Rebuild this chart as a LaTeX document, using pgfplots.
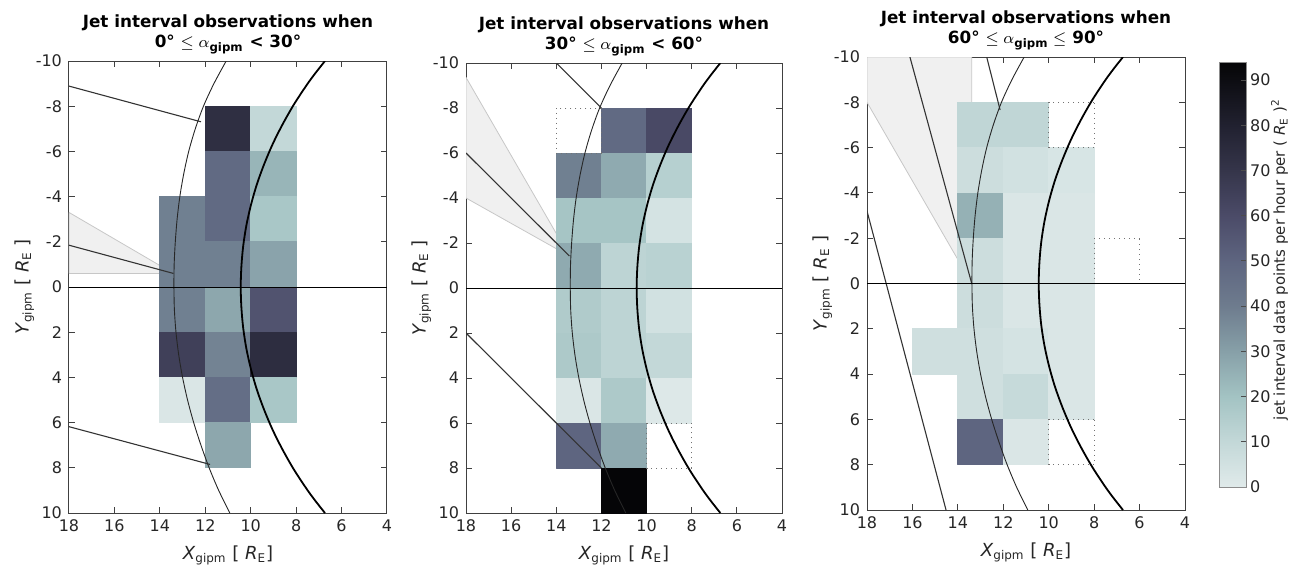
\documentclass[border=0pt]{standalone}
\usepackage{amsmath}
\usepackage{fontspec}
\setmainfont{DejaVu Sans}
\usepackage{pgfplots}
\usepackage{pgfplotstable}
\pgfplotsset{compat=1.18}
\usepgfplotslibrary{patchplots}

% model boundaries, same in all panels
\pgfplotstableread{
x y
11.08 -10
11.62 -9
12.08 -8
12.44 -7
12.73 -6
12.95 -5
13.12 -4
13.24 -3
13.32 -2
13.37 -1
13.38 0
13.36 1
13.29 2
13.17 3
13.00 4
12.78 5
12.51 6
12.19 7
11.83 8
11.41 9
10.92 10
}\bowshock
\pgfplotstableread{
x y
6.73 -10
7.14 -9.48
7.52 -8.96
8.09 -8.09
8.59 -7.21
9.03 -6.33
9.41 -5.43
9.73 -4.54
9.99 -3.63
10.19 -2.73
10.33 -1.82
10.41 -0.91
10.44 0
10.41 0.91
10.33 1.82
10.19 2.73
9.99 3.63
9.73 4.54
9.41 5.43
9.03 6.33
8.59 7.21
8.09 8.09
7.52 8.96
7.14 9.48
6.73 10
}\mpause
\pgfplotstableread{
x y
18 0
4 0
}\xaxisline

\pgfplotsset{
  colormap={gipm}{
    rgb255(0pt)=(224,234,234); rgb255(10pt)=(195,216,216);
    rgb255(20pt)=(163,195,195); rgb255(30pt)=(135,160,168);
    rgb255(40pt)=(110,124,142); rgb255(50pt)=(94,101,128);
    rgb255(60pt)=(75,75,104); rgb255(70pt)=(53,53,74);
    rgb255(80pt)=(33,33,48); rgb255(90pt)=(13,13,18);
    rgb255(94pt)=(5,5,7)
  },
  gipm/.style={
    scale only axis, anchor=south west,
    xmin=4, xmax=18, x dir=reverse, xtick={4,6,...,18},
    ymin=-10, ymax=10, y dir=reverse, ytick={-10,-8,...,10},
    tick align=inside, major tick length=3pt,
    axis line style={black!75, line width=0.5pt},
    tick style={black!75, line width=0.5pt},
    ticklabel style={font=\fontsize{8}{9}\selectfont, text=black!85},
    /pgf/number format/assume math mode=true,
    xlabel={\textit{X}\textsubscript{gipm} [ \textit{R}\textsubscript{E}]},
    ylabel={\textit{Y}\textsubscript{gipm} [ \textit{R}\textsubscript{E} ]},
    ylabel shift=-6pt,
    label style={font=\fontsize{9}{10}\selectfont, text=black!85},
    title style={font=\bfseries\fontsize{8.4}{10}\selectfont, align=center,
      at={(0.5,1)}, anchor=south, yshift=-6pt},
    colormap name=gipm, point meta min=0, point meta max=94,
  },
  jcells/.style={patch, patch type=rectangle, shader=flat, point meta=explicit},
  jwedge/.style={fill=black!6, draw=black!22, line width=0.4pt},
  jshock/.style={black!85, line width=0.45pt, smooth},
  jpause/.style={black, line width=0.9pt, smooth},
  jbound/.style={black!80, line width=0.55pt},
  jempty/.style={black!55, dotted, line width=0.5pt},
  jzero/.style={black, line width=0.5pt},
}

\begin{document}
\begin{tikzpicture}
\useasboundingbox (0,0) rectangle (645.5pt,284.5pt);

% ---- 0 to 30 deg
\begin{axis}[gipm, at={(34.5pt,28pt)}, width=159pt, height=226pt,
  title={Jet interval observations when\\0° $\leq \alpha_{\text{gipm}}$ < 30°}]
\addplot[jwedge] table[row sep=\\] {x y\\ 18 -3.3\\ 13.4 -0.6\\ 18 -0.6\\ 18 -3.3\\};
\addplot[jcells] coordinates {
(12,-4)[39] (14,-4)[39] (14,-2)[39] (12,-2)[39]
(12,-2)[39] (14,-2)[39] (14,0)[39] (12,0)[39]
(12,0)[39] (14,0)[39] (14,2)[39] (12,2)[39]
(12,2)[65] (14,2)[65] (14,4)[65] (12,4)[65]
(12,4)[2] (14,4)[2] (14,6)[2] (12,6)[2]
(10,-8)[73] (12,-8)[73] (12,-6)[73] (10,-6)[73]
(10,-6)[48] (12,-6)[48] (12,-4)[48] (10,-4)[48]
(10,-4)[48] (12,-4)[48] (12,-2)[48] (10,-2)[48]
(10,-2)[39] (12,-2)[39] (12,0)[39] (10,0)[39]
(10,0)[28] (12,0)[28] (12,2)[28] (10,2)[28]
(10,2)[38] (12,2)[38] (12,4)[38] (10,4)[38]
(10,4)[46] (12,4)[46] (12,6)[46] (10,6)[46]
(10,6)[28] (12,6)[28] (12,8)[28] (10,8)[28]
(8,-8)[10] (10,-8)[10] (10,-6)[10] (8,-6)[10]
(8,-6)[24] (10,-6)[24] (10,-4)[24] (8,-4)[24]
(8,-4)[18] (10,-4)[18] (10,-2)[18] (8,-2)[18]
(8,-2)[29] (10,-2)[29] (10,0)[29] (8,0)[29]
(8,0)[57] (10,0)[57] (10,2)[57] (8,2)[57]
(8,2)[74] (10,2)[74] (10,4)[74] (8,4)[74]
(8,4)[18] (10,4)[18] (10,6)[18] (8,6)[18]
};
\addplot[jbound] table[row sep=\\] {x y\\ 18 -1.85\\ 13.4 -0.6\\};
\addplot[jbound] table[row sep=\\] {x y\\ 18 -8.89\\ 12.19 -7.31\\};
\addplot[jbound] table[row sep=\\] {x y\\ 18 6.18\\ 11.79 7.85\\};
\addplot[jshock] table {\bowshock};
\addplot[jpause] table {\mpause};
\addplot[jzero] table {\xaxisline};
\end{axis}

% ---- 30 to 60 deg
\begin{axis}[gipm, at={(233pt,28pt)}, width=158pt, height=225pt,
  title={Jet interval observations when\\30° $\leq \alpha_{\text{gipm}}$ < 60°}]
\addplot[jwedge] table[row sep=\\] {x y\\ 18 -9.36\\ 13.42 -1.42\\ 18 -4.0\\ 18 -9.36\\};
\addplot[jcells] coordinates {
(12,-6)[39] (14,-6)[39] (14,-4)[39] (12,-4)[39]
(12,-4)[19] (14,-4)[19] (14,-2)[19] (12,-2)[19]
(12,-2)[27] (14,-2)[27] (14,0)[27] (12,0)[27]
(12,0)[16] (14,0)[16] (14,2)[16] (12,2)[16]
(12,2)[17] (14,2)[17] (14,4)[17] (12,4)[17]
(12,4)[2] (14,4)[2] (14,6)[2] (12,6)[2]
(12,6)[50] (14,6)[50] (14,8)[50] (12,8)[50]
(10,-8)[48] (12,-8)[48] (12,-6)[48] (10,-6)[48]
(10,-6)[27] (12,-6)[27] (12,-4)[27] (10,-4)[27]
(10,-4)[19] (12,-4)[19] (12,-2)[19] (10,-2)[19]
(10,-2)[12] (12,-2)[12] (12,0)[12] (10,0)[12]
(10,0)[12] (12,0)[12] (12,2)[12] (10,2)[12]
(10,2)[12] (12,2)[12] (12,4)[12] (10,4)[12]
(10,4)[17] (12,4)[17] (12,6)[17] (10,6)[17]
(10,6)[27] (12,6)[27] (12,8)[27] (10,8)[27]
(10,8)[94] (12,8)[94] (12,10)[94] (10,10)[94]
(8,-8)[61] (10,-8)[61] (10,-6)[61] (8,-6)[61]
(8,-6)[14] (10,-6)[14] (10,-4)[14] (8,-4)[14]
(8,-4)[4] (10,-4)[4] (10,-2)[4] (8,-2)[4]
(8,-2)[13] (10,-2)[13] (10,0)[13] (8,0)[13]
(8,0)[5] (10,0)[5] (10,2)[5] (8,2)[5]
(8,2)[10] (10,2)[10] (10,4)[10] (8,4)[10]
(8,4)[1] (10,4)[1] (10,6)[1] (8,6)[1]
};
\addplot[jempty] table[row sep=\\] {x y\\ 12 -8\\ 14 -8\\ 14 -6\\ 12 -6\\ 12 -8\\};
\addplot[jempty] table[row sep=\\] {x y\\ 8 6\\ 10 6\\ 10 8\\ 8 8\\ 8 6\\};
\addplot[jbound] table[row sep=\\] {x y\\ 18 -6.0\\ 13.42 -1.42\\};
\addplot[jbound] table[row sep=\\] {x y\\ 14.0 -10\\ 12.0 -8.0\\};
\addplot[jbound] table[row sep=\\] {x y\\ 18 2.0\\ 12.0 8.0\\};
\addplot[jshock] table {\bowshock};
\addplot[jpause] table {\mpause};
\addplot[jzero] table {\xaxisline};
\end{axis}

% ---- 60 to 90 deg
\begin{axis}[gipm, at={(433.5pt,29.5pt)}, width=159pt, height=226.5pt,
  title={Jet interval observations when\\60° $\leq \alpha_{\text{gipm}} \leq$ 90°},
  colorbar,
  colorbar style={at={(parent axis.south east)}, anchor=south west,
    xshift=8.5pt, yshift=11.5pt, width=13.5pt, height=212.5pt,
    y dir=normal, title={}, xlabel={},
    ytick={0,10,...,90}, ytick pos=right, yticklabel pos=right,
    tick align=inside, major tick length=2.5pt,
    axis line style={black!45, line width=0.5pt},
    tick style={black!70, line width=0.5pt},
    /pgf/number format/assume math mode=true,
    yticklabel style={font=\fontsize{8}{9}\selectfont, text=black!85, xshift=-1.5pt},
    ylabel={jet interval data points per hour per ( \textit{R}\textsubscript{E} )\textsuperscript{2}},
    ylabel style={font=\fontsize{7.5}{9}\selectfont, text=black!85,
      at={(axis description cs:1.66,0.535)}, anchor=north}}]
\addplot[jwedge] table[row sep=\\] {x y\\ 18 -10\\ 13.39 -10\\ 13.39 0\\ 18 -8\\ 18 -10\\};
\addplot[jcells] coordinates {
(14,2)[6] (16,2)[6] (16,4)[6] (14,4)[6]
(12,-8)[11] (14,-8)[11] (14,-6)[11] (12,-6)[11]
(12,-6)[7] (14,-6)[7] (14,-4)[7] (12,-4)[7]
(12,-4)[25] (14,-4)[25] (14,-2)[25] (12,-2)[25]
(12,-2)[7] (14,-2)[7] (14,0)[7] (12,0)[7]
(12,0)[7] (14,0)[7] (14,2)[7] (12,2)[7]
(12,2)[6] (14,2)[6] (14,4)[6] (12,4)[6]
(12,4)[6] (14,4)[6] (14,6)[6] (12,6)[6]
(12,6)[50] (14,6)[50] (14,8)[50] (12,8)[50]
(10,-8)[11] (12,-8)[11] (12,-6)[11] (10,-6)[11]
(10,-6)[5] (12,-6)[5] (12,-4)[5] (10,-4)[5]
(10,-4)[2] (12,-4)[2] (12,-2)[2] (10,-2)[2]
(10,-2)[2] (12,-2)[2] (12,0)[2] (10,0)[2]
(10,0)[2] (12,0)[2] (12,2)[2] (10,2)[2]
(10,2)[4] (12,2)[4] (12,4)[4] (10,4)[4]
(10,4)[9] (12,4)[9] (12,6)[9] (10,6)[9]
(10,6)[2] (12,6)[2] (12,8)[2] (10,8)[2]
(8,-6)[3] (10,-6)[3] (10,-4)[3] (8,-4)[3]
(8,-4)[2] (10,-4)[2] (10,-2)[2] (8,-2)[2]
(8,-2)[2] (10,-2)[2] (10,0)[2] (8,0)[2]
(8,0)[2] (10,0)[2] (10,2)[2] (8,2)[2]
(8,2)[2] (10,2)[2] (10,4)[2] (8,4)[2]
(8,4)[2] (10,4)[2] (10,6)[2] (8,6)[2]
};
\addplot[jempty] table[row sep=\\] {x y\\ 8 -8\\ 10 -8\\ 10 -6\\ 8 -6\\ 8 -8\\};
\addplot[jempty] table[row sep=\\] {x y\\ 6 -2\\ 8 -2\\ 8 0\\ 6 0\\ 6 -2\\};
\addplot[jempty] table[row sep=\\] {x y\\ 8 6\\ 10 6\\ 10 8\\ 8 8\\ 8 6\\};
\addplot[jbound] table[row sep=\\] {x y\\ 16.11 -10\\ 13.39 0\\};
\addplot[jbound] table[row sep=\\] {x y\\ 12.73 -10\\ 12.14 -7.66\\};
\addplot[jbound] table[row sep=\\] {x y\\ 18 -3.2\\ 14.52 10\\};
\addplot[jshock] table {\bowshock};
\addplot[jpause] table {\mpause};
\addplot[jzero] table {\xaxisline};
\end{axis}
\end{tikzpicture}
\end{document}
